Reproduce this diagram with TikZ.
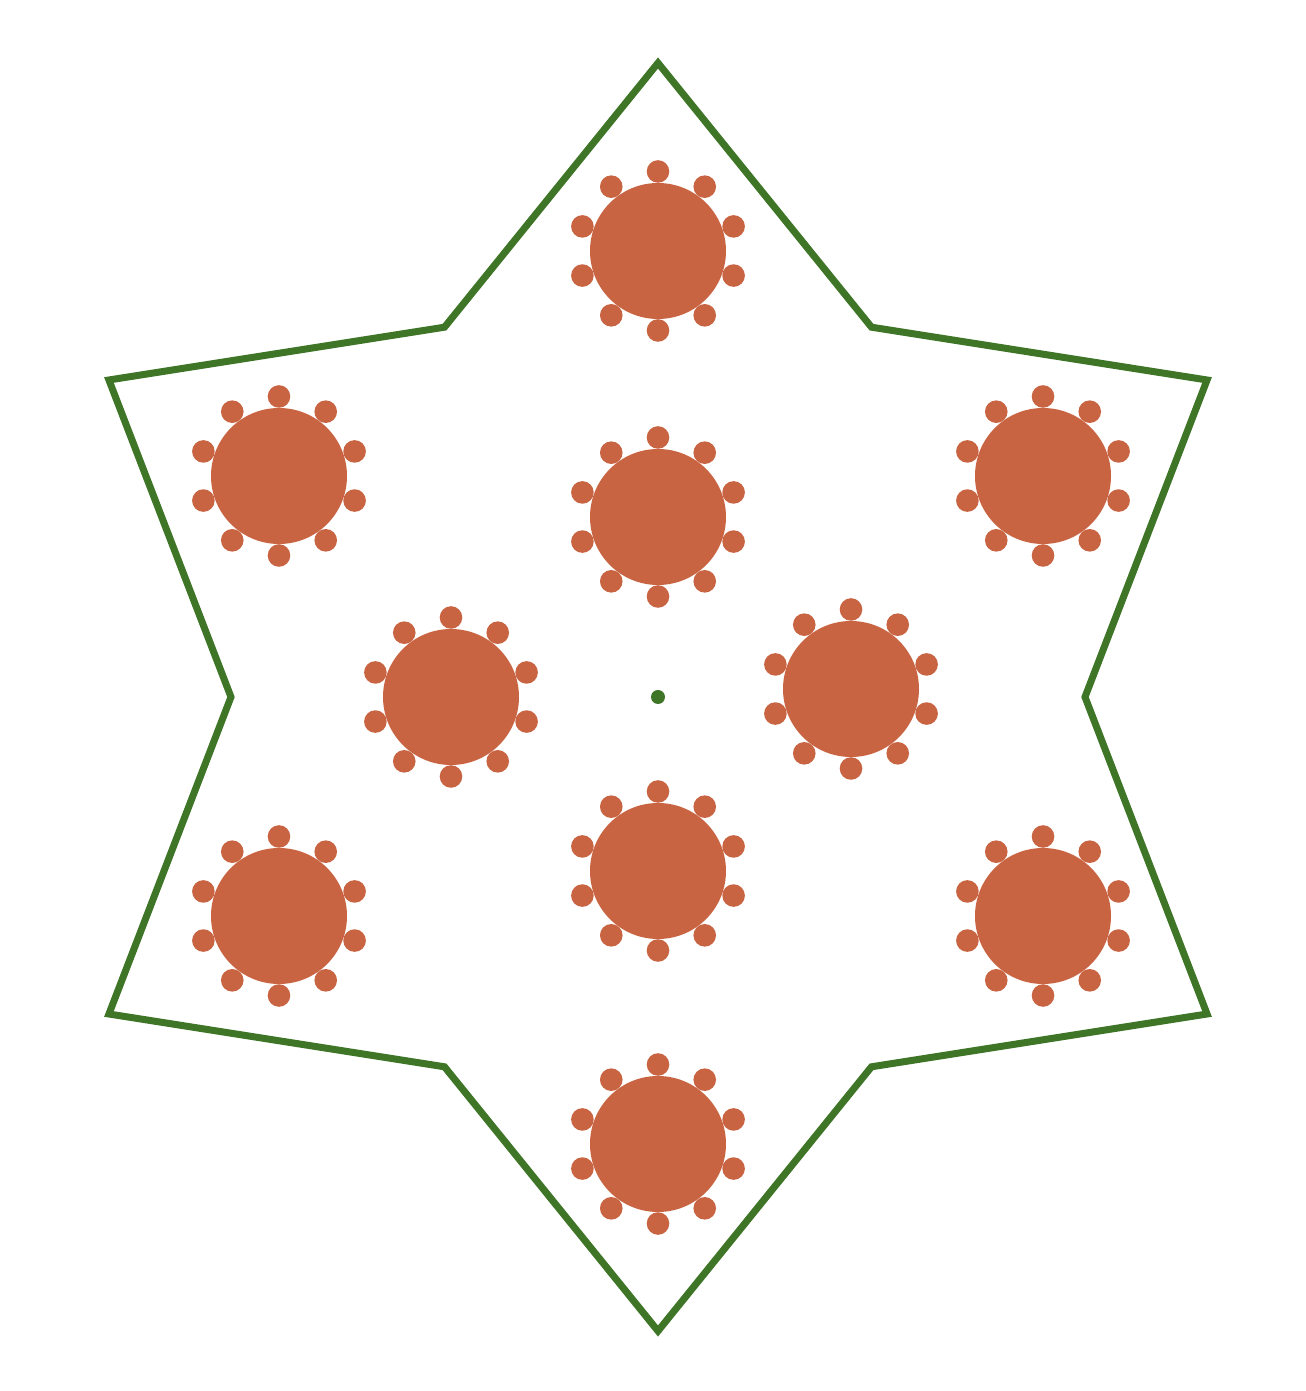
\documentclass[tikz,border=0pt]{standalone}
\definecolor{leaf}{HTML}{3E7527}
\definecolor{clay}{HTML}{C96442}
\begin{document}
\begin{tikzpicture}[x=0.01cm,y=0.01cm]
\useasboundingbox (-658,-694) rectangle (647,697);
\coordinate (O) at (0,0);
\foreach \i in {0,...,5}{
\coordinate (P\i) at ({90+60*\i}:634);
\coordinate (Q\i) at ({120+60*\i}:427);
}
\draw[leaf,line width=0.7mm,line join=miter]
(P0)--(Q0)--(P1)--(Q1)--(P2)--(Q2)--(P3)--(Q3)--(P4)--(Q4)--(P5)--(Q5)--cycle;
\fill[leaf] (O) circle (7);
\foreach \x/\y in {0/446,0/180,0/-174,0/-447,-379/221,385/221,-379/-219,385/-219,-207/0,193/8}{
\coordinate (F) at (\x,\y);
\fill[clay] (F) circle (68);
\foreach \a in {0,36,...,324}
\fill[clay] (F) ++(90+\a:79.5) circle (11.3);
}
\end{tikzpicture}
\end{document}
